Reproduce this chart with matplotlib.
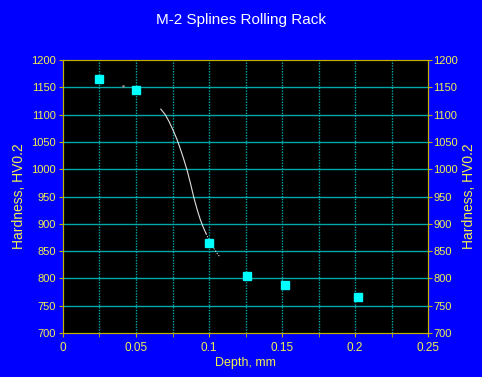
import matplotlib.pyplot as plt
import numpy as np

plt.rcParams['font.family'] = ['Liberation Sans', 'DejaVu Sans']

# measured hardness points
depth = [0.025, 0.05, 0.1, 0.126, 0.152, 0.202]
hardness = [1165, 1145, 865, 804, 788, 766]

# fitted curve
curve_x = [0.067, 0.070, 0.0725, 0.0753, 0.078, 0.080, 0.0825, 0.085, 0.0875,
           0.0897, 0.092, 0.094, 0.096, 0.098, 0.100, 0.1025, 0.105, 0.1075]
curve_y = [1110, 1100, 1088, 1072, 1055, 1040, 1020, 998, 972,
           947, 925, 908, 894, 882, 870, 858, 848, 839]

yticks = np.arange(700, 1201, 50)
xticks = [0, 0.05, 0.1, 0.15, 0.2, 0.25]
xlabels = ['0', '0.05', '0.1', '0.15', '0.2', '0.25']

yellow = '#f0f050'
axcol = '#c0b000'
grid = '#00a8a8'

fig = plt.figure(figsize=(4.82, 3.77), dpi=100, facecolor='#0000ff')
ax = fig.add_axes([0.1307, 0.1167, 0.7573, 0.7241])
ax.set_facecolor('black')

for y in yticks[1:-1]:
    ax.axhline(y, color=grid, lw=1, zorder=1)
for x in np.arange(0.025, 0.25, 0.025):
    ax.axvline(x, color=grid, lw=1, ls=(0, (1, 1)), zorder=1)

ax.plot(curve_x[:-4], curve_y[:-4], color='#e0e0e0', lw=0.8, zorder=2)
ax.plot(curve_x[-5:], curve_y[-5:], color='#e0e0e0', lw=0.8, ls=(0, (1, 1.5)), zorder=2)
ax.plot([0.041], [1153], marker='.', ms=2, color='#888888', ls='none')
ax.plot(depth, hardness, 's', color='#00ffff', ms=6, zorder=3)

ax.set_xlim(0, 0.25)
ax.set_ylim(700, 1200)
ax.set_xticks(xticks)
ax.set_xticklabels(xlabels)
ax.set_xticks(np.arange(0.025, 0.25, 0.05), minor=True)
ax.set_yticks(yticks)
ax.tick_params(colors=axcol, labelcolor=yellow, labelsize=8.5, length=3, which='both')
ax.tick_params(axis='y', labelsize=8, pad=2)
for s in ax.spines.values():
    s.set_color(axcol)

ax2 = ax.twinx()
ax2.set_ylim(700, 1200)
ax2.set_yticks(yticks)
ax2.tick_params(colors=axcol, labelcolor=yellow, labelsize=8, length=3, pad=1)
for s in ax2.spines.values():
    s.set_color(axcol)

ax.set_xlabel('Depth, mm', color=yellow, fontsize=9, labelpad=2)
ax.set_ylabel('Hardness, HV0.2', color=yellow, fontsize=10)
ax2.set_ylabel('Hardness, HV0.2', color=yellow, fontsize=10)
ax.yaxis.set_label_coords(-0.100, 0.5)
ax2.yaxis.set_label_coords(1.092, 0.5)
fig.suptitle('M-2 Splines Rolling Rack', color='white', fontsize=11, y=0.965)

fig.savefig('out.png', dpi=100, facecolor=fig.get_facecolor())
